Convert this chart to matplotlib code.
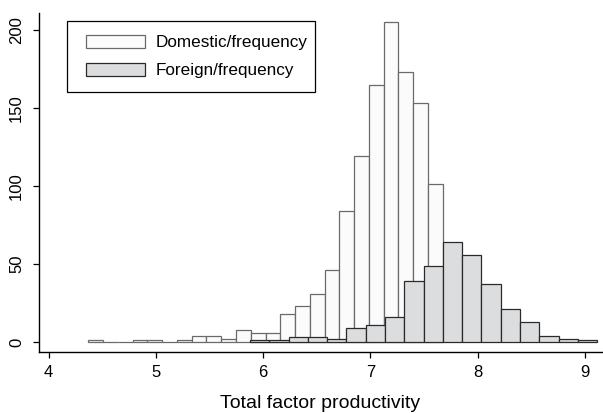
import numpy as np
import matplotlib
matplotlib.use("Agg")
import matplotlib.pyplot as plt
from matplotlib.patches import Rectangle

plt.rcParams['font.family'] = ['Liberation Sans', 'DejaVu Sans']

# Domestic firms: histogram bins (left edge, width) and counts
dom_start = 4.3714
dom_width = 0.1376
dom_counts = [1, 0, 0, 1, 1, 0, 1, 4, 4, 2, 8, 6, 6, 18, 23, 31,
              46, 84, 119, 165, 205, 173, 153, 101]

# Foreign firms
for_start = 5.878
for_width = 0.1798
for_counts = [1, 1, 3, 3, 2, 9, 11, 16, 39, 49, 64, 56, 37, 21, 13, 4, 2, 1]

xticks = [4, 5, 6, 7, 8, 9]
yticks = [0, 50, 100, 150, 200]

dom_left = dom_start + dom_width * np.arange(len(dom_counts))
for_left = for_start + for_width * np.arange(len(for_counts))

W, H = 603, 413
fig = plt.figure(figsize=(W / 100, H / 100), dpi=100)
ax = fig.add_axes([39 / W, 1 - 352 / H, (602 - 39) / W, (352 - 13.3) / H])

ax.bar(dom_left, dom_counts, width=dom_width, align='edge',
       color='#fbfbfb', edgecolor='#6a6a6a', linewidth=0.9,
       label='Domestic/frequency')
ax.bar(for_left, for_counts, width=for_width, align='edge',
       color='#dcdddf', edgecolor='#2a2a2a', linewidth=0.9,
       label='Foreign/frequency')

ax.set_xlim(3.911, 9.159)
ax.set_ylim(-6.4, 210.7)
ax.set_xticks(xticks)
ax.set_yticks(yticks)

for side in ['top', 'right']:
    ax.spines[side].set_visible(False)
for side in ['left', 'bottom']:
    ax.spines[side].set_linewidth(1.0)

ax.tick_params(axis='both', direction='out', length=4.3, width=0.9,
               labelsize=12, color='black')
ax.tick_params(axis='x', pad=5)
ax.tick_params(axis='y', pad=6.5)
for lab in ax.get_yticklabels():
    lab.set_rotation(90)
    lab.set_va('center')
    lab.set_ha('right')

ax.set_xlabel('Total factor productivity', fontsize=14, labelpad=11)

# legend entries, with the box drawn separately
leg = ax.legend(loc='upper left', bbox_to_anchor=(85.7 / W, 1 - 35 / H),
                bbox_transform=fig.transFigure, fontsize=12.3,
                frameon=False, handlelength=3.45, handleheight=0.78,
                borderpad=0, labelspacing=0.72, handletextpad=0.64,
                borderaxespad=0)
fig.patches.append(Rectangle((67.3 / W, 1 - 92.3 / H), (315 - 67.3) / W,
                             (92.3 - 21) / H, transform=fig.transFigure,
                             fill=False, edgecolor='black', linewidth=0.9))

fig.savefig('out.png', dpi=100)
